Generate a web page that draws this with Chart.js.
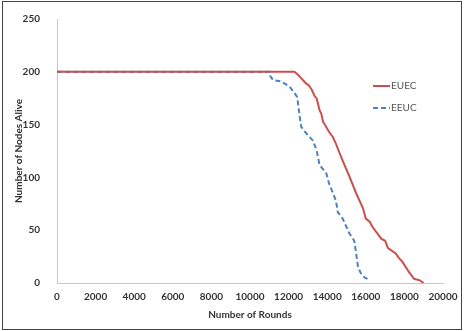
<!DOCTYPE html>
<html>
<head>
<meta charset="utf-8">
<script src="https://cdn.jsdelivr.net/npm/chart.js@4"></script>
<style>
    html, body { margin: 0; padding: 0; background: #fff; }
    #frame {
        position: absolute; left: 2px; top: 1px;
        width: 458px; height: 327px;
        border: 1px solid #444;
    }
    #wrap { position: absolute; left: 0; top: 0; width: 464px; height: 331px; }
</style>
</head>
<body>
<div id="frame"></div>
<div id="wrap"><canvas id="lifetimeChart" width="464" height="331"></canvas></div>
<script>
// EUEC (proposed) - rounds vs nodes alive
const euecRounds = [0, 12300, 12500, 12650, 12900, 13050, 13200, 13350, 13450, 13600, 13700, 13780, 14100, 14300, 14450, 14600, 14800, 15150, 15500, 15850, 16000, 16200, 16350, 16800, 17000, 17150, 17550, 17700, 17900, 18250, 18500, 18800, 19000];
const euecAlive  = [200, 200, 197, 194, 189, 187, 183, 177, 175, 164, 160, 153, 143, 138, 132, 125, 116, 101, 85, 71, 61, 58, 53, 42, 40, 33, 28, 24, 20, 10, 4, 2.5, 0];

// EEUC (baseline)
const eeucRounds = [0, 11000, 11050, 11200, 11600, 12050, 12300, 12450, 12550, 12650, 12900, 13250, 13450, 13600, 13950, 14100, 14300, 14450, 14550, 14800, 15000, 15150, 15400, 15500, 15600, 15750, 15950, 16200];
const eeucAlive  = [200, 200, 196, 192, 191, 186, 180, 176, 161, 148, 142, 135, 126, 112, 104, 94, 85, 78, 67, 61, 53, 47, 40, 28, 15, 9, 5, 3];

const xTicks = [0, 2000, 4000, 6000, 8000, 10000, 12000, 14000, 16000, 18000, 20000];
const yTicks = [0, 50, 100, 150, 200, 250];

const seriesNames = ['EUEC', 'EEUC'];
const seriesColors = ['#C9504D', '#4F81BD'];

function toPoints(xs, ys) {
    return xs.map((x, i) => ({ x: x, y: ys[i] }));
}

const tickFont = { family: 'Lato', size: 10, weight: 'bold' };

// legend drawn inside the plot area, like the original
const insideLegend = {
    id: 'insideLegend',
    afterDraw(chart) {
        const ctx = chart.ctx;
        const rows = [86, 108];
        ctx.save();
        ctx.font = '10px Lato';
        ctx.textBaseline = 'middle';
        chart.data.datasets.forEach((ds, i) => {
            const y = rows[i];
            ctx.strokeStyle = ds.borderColor;
            ctx.lineWidth = 2;
            ctx.setLineDash(ds.borderDash || []);
            ctx.beginPath();
            ctx.moveTo(373, y);
            ctx.lineTo(390, y);
            ctx.stroke();
            ctx.setLineDash([]);
            ctx.fillStyle = '#555';
            ctx.fillText(ds.label, 391, y);
        });
        ctx.restore();
    }
};

const ctx = document.getElementById('lifetimeChart').getContext('2d');
const lifetimeChart = new Chart(ctx, {
    type: 'line',
    data: {
        datasets: [
            {
                label: seriesNames[0],
                data: toPoints(euecRounds, euecAlive),
                borderColor: seriesColors[0],
                borderWidth: 2,
                pointRadius: 0,
                tension: 0,
            },
            {
                label: seriesNames[1],
                data: toPoints(eeucRounds, eeucAlive),
                borderColor: seriesColors[1],
                borderWidth: 2,
                borderDash: [5, 3],
                pointRadius: 0,
                tension: 0,
            },
        ]
    },
    options: {
        responsive: false,
        animation: false,
        layout: { padding: { left: 0, right: 21, top: 19, bottom: 0 } },
        plugins: {
            legend: { display: false },
            tooltip: { enabled: false },
        },
        scales: {
            x: {
                type: 'linear',
                min: 0,
                max: 20000,
                afterBuildTicks: function(axis) {
                    axis.ticks = xTicks.map(v => ({ value: v }));
                },
                afterFit: function(axis) { axis.height = 48; },
                grid: { display: false },
                border: { display: true, color: '#c8c8c8', width: 1 },
                ticks: {
                    color: '#333',
                    font: tickFont,
                    padding: 0,
                    maxRotation: 0,
                    callback: function(value) { return value; }
                },
                title: {
                    display: true,
                    text: 'Number of Rounds',
                    color: '#333',
                    font: tickFont,
                    padding: { top: 4, bottom: 10 }
                }
            },
            y: {
                min: 0,
                max: 250,
                afterBuildTicks: function(axis) {
                    axis.ticks = yTicks.map(v => ({ value: v }));
                },
                afterFit: function(axis) { axis.width = 57; },
                grid: { display: false },
                border: { display: true, color: '#c8c8c8', width: 1 },
                ticks: {
                    color: '#333',
                    font: tickFont,
                    padding: 9,
                },
                title: {
                    display: true,
                    text: 'Number of Nodes Alive',
                    color: '#333',
                    font: tickFont,
                    padding: { top: 13, bottom: 0 }
                }
            }
        }
    },
    plugins: [insideLegend]
});
</script>
</body>
</html>
